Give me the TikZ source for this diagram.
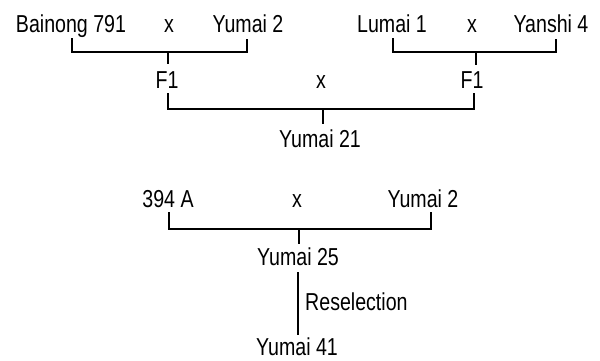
\documentclass[tikz,border=0pt]{standalone}
\usepackage{fontspec}
\setmainfont{Liberation Sans}[FakeStretch=0.8]
\begin{document}
\begin{tikzpicture}[x=1pt,y=-1pt,
  lbl/.style={anchor=base,inner sep=0pt,font=\fontsize{24.5}{28}\selectfont},
  link/.style={draw=black,line width=2.4pt}]
\useasboundingbox (0,0) rectangle (600,360);
% top row
\node[lbl] (b1) at (71,32) {Bainong 791};
\node[lbl] (x1) at (169,32) {x};
\node[lbl] (y2) at (248,32) {Yumai 2};
\node[lbl] (l1) at (392,32) {Lumai 1};
\node[lbl] (x2) at (472,32) {x};
\node[lbl] (ya) at (551,32) {Yanshi 4};
% second row
\node[lbl] (f1a) at (167,88) {F1};
\node[lbl] (xm) at (321,88) {x};
\node[lbl] (f1b) at (472,88) {F1};
\node[lbl] (y21) at (320,147) {Yumai 21};
% lower pedigree
\node[lbl] (a394) at (168,207) {394 A};
\node[lbl] (x3) at (297,207) {x};
\node[lbl] (y2b) at (423,207) {Yumai 2};
\node[lbl] (y25) at (298,265) {Yumai 25};
\node[lbl,anchor=base west] (res) at (305,310) {Reselection};
\node[lbl] (y41) at (297,355) {Yumai 41};
% connector ends
\coordinate (b1e) at (72,38);
\coordinate (y2e) at (247,39);
\coordinate (f1aT) at (168,52);
\coordinate (f1aU) at (168,64);
\coordinate (l1e) at (393,38);
\coordinate (yae) at (556,39);
\coordinate (f1bT) at (476,52);
\coordinate (f1bU) at (476,65);
\coordinate (f1aD) at (168,93);
\coordinate (f1bD) at (474,93);
\coordinate (y21T) at (323,109);
\coordinate (y21U) at (323,124);
\coordinate (a394e) at (169,212);
\coordinate (y2be) at (431,212);
\coordinate (y25T) at (299,229);
\coordinate (y25U) at (299,244);
\coordinate (y25D) at (298,272);
\coordinate (y41U) at (298,335);
% brackets
\draw[link] (b1e) |- (y2e |- f1aT) -- (y2e);
\draw[link] (f1aT) -- (f1aU);
\draw[link] (l1e) |- (yae |- f1bT) -- (yae);
\draw[link] (f1bT) -- (f1bU);
\draw[link] (f1aD) |- (f1bD |- y21T) -- (f1bD);
\draw[link] (y21T) -- (y21U);
\draw[link] (a394e) |- (y2be |- y25T) -- (y2be);
\draw[link] (y25T) -- (y25U);
\draw[link] (y25D) -- (y41U);
\end{tikzpicture}
\end{document}
